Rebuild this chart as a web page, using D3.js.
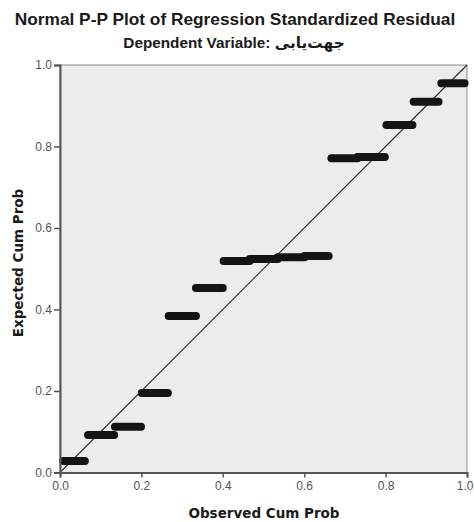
<!DOCTYPE html>
<html>
<head>
<meta charset="utf-8">
<script src="https://cdn.jsdelivr.net/npm/d3@7"></script>
<style>
  body { margin: 0; background: #fff; }
  svg { display: block; }
</style>
</head>
<body>
<svg id="chart" width="474" height="522"></svg>
<script>
const titleText = "Normal P-P Plot of Regression Standardized Residual";
const subtitleText = "Dependent Variable: جهت‌یابی";
const xLabel = "Observed Cum Prob";
const yLabel = "Expected Cum Prob";
const tickValues = [0, 0.2, 0.4, 0.6, 0.8, 1.0];

// tied groups of residuals: observed cum prob range, expected cum prob
const obsStart = [0.008, 0.069, 0.135, 0.201, 0.267, 0.334, 0.402, 0.466, 0.535, 0.601, 0.667, 0.731, 0.802, 0.869, 0.937];
const obsEnd   = [0.061, 0.133, 0.199, 0.265, 0.334, 0.400, 0.466, 0.535, 0.601, 0.660, 0.731, 0.798, 0.866, 0.930, 0.994];
const expected = [0.028, 0.092, 0.112, 0.195, 0.384, 0.453, 0.519, 0.524, 0.528, 0.531, 0.771, 0.774, 0.853, 0.910, 0.955];

const svg = d3.select("#chart");
const plotL = 60, plotT = 65, plotR = 467, plotB = 472.5;

const x = d3.scaleLinear().domain([0, 1]).range([plotL, plotR]);
const y = d3.scaleLinear().domain([0, 1]).range([plotB, plotT]);

// plot area
svg.append("rect")
    .attr("x", plotL).attr("y", plotT)
    .attr("width", plotR - plotL).attr("height", plotB - plotT)
    .attr("fill", "#ececec")
    .attr("stroke", "#8a8a8a")
    .attr("stroke-width", 1);

// reference diagonal
svg.append("line")
    .attr("x1", x(0)).attr("y1", y(0))
    .attr("x2", x(1)).attr("y2", y(1))
    .attr("stroke", "#2b2b2b")
    .attr("stroke-width", 1.1);

// points (tied groups drawn as runs of overlapping markers)
const groups = obsStart.map((s, i) => ({ s: s, e: obsEnd[i], p: expected[i] }));
svg.append("g")
    .selectAll("line")
    .data(groups)
    .enter().append("line")
    .attr("x1", d => x(d.s)).attr("x2", d => x(d.e))
    .attr("y1", d => y(d.p)).attr("y2", d => y(d.p))
    .attr("stroke", "#141414")
    .attr("stroke-width", 8)
    .attr("stroke-linecap", "round");

// axes
const xAxis = svg.append("g")
    .attr("transform", `translate(0,${plotB})`)
    .call(d3.axisBottom(x).tickValues(tickValues).tickFormat(d3.format(".1f")).tickSizeOuter(0).tickSize(5).tickPadding(4));
const yAxis = svg.append("g")
    .attr("transform", `translate(${plotL},0)`)
    .call(d3.axisLeft(y).tickValues(tickValues).tickFormat(d3.format(".1f")).tickSizeOuter(0).tickSize(6).tickPadding(2));

[xAxis, yAxis].forEach(a => {
    a.select(".domain").attr("stroke", "#555").attr("stroke-width", 2);
    a.selectAll(".tick line").attr("stroke", "#555").attr("stroke-width", 1.5);
    a.selectAll(".tick text")
        .attr("fill", "#555")
        .style("font-family", "Liberation Sans, Arial, sans-serif")
        .style("font-size", "12px");
});
// last x label sits against the right edge
xAxis.selectAll(".tick text").filter(d => d === 1)
    .attr("text-anchor", "end")
    .attr("x", 474 - plotR - 1);

// titles
svg.append("text")
    .attr("x", 235).attr("y", 25)
    .attr("text-anchor", "middle")
    .style("font-family", "Liberation Sans, Arial, sans-serif")
    .style("font-weight", "bold")
    .style("font-size", "17.3px")
    .attr("fill", "#1a1a1a")
    .text(titleText);

svg.append("text")
    .attr("x", 234).attr("y", 48)
    .attr("text-anchor", "middle")
    .style("font-family", "Liberation Sans, DejaVu Sans, Arial, sans-serif")
    .style("font-weight", "bold")
    .style("font-size", "15.3px")
    .attr("fill", "#1a1a1a")
    .attr("direction", "ltr")
    .text(subtitleText);

svg.append("text")
    .attr("x", 264).attr("y", 518)
    .attr("text-anchor", "middle")
    .style("font-family", "DejaVu Sans, Verdana, sans-serif")
    .style("font-weight", "bold")
    .style("font-size", "13.5px")
    .attr("fill", "#1a1a1a")
    .text(xLabel);

svg.append("text")
    .attr("transform", `translate(23,263) rotate(-90)`)
    .attr("text-anchor", "middle")
    .style("font-family", "DejaVu Sans, Verdana, sans-serif")
    .style("font-weight", "bold")
    .style("font-size", "13.5px")
    .attr("fill", "#1a1a1a")
    .text(yLabel);
</script>
</body>
</html>
